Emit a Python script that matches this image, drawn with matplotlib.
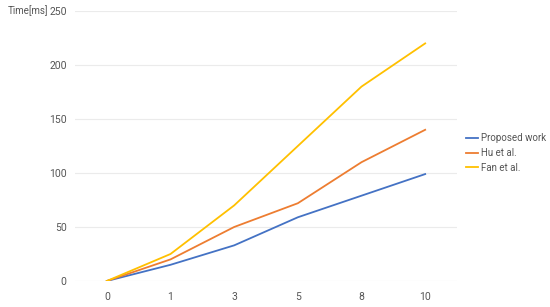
import matplotlib.pyplot as plt

# данные графика
categories = ['0', '1', '3', '5', '8', '10']
proposed = [0, 15, 33, 59, 79, 99]
hu = [0, 20, 50, 72, 110, 140]
fan = [0, 25, 70, 125, 180, 220]
y_ticks = [0, 50, 100, 150, 200, 250]

plt.rcParams['font.family'] = ['Roboto', 'DejaVu Sans']

fig = plt.figure(figsize=(5.5, 3.07), dpi=100)
ax = fig.add_axes([75 / 550, 26 / 307, 382 / 550, 270 / 307])

x = list(range(len(categories)))
ax.plot(x, proposed, color='#4472c4', linewidth=1.3, label='Proposed work')
ax.plot(x, hu, color='#ed7d31', linewidth=1.3, label='Hu et al.')
ax.plot(x, fan, color='#ffc000', linewidth=1.3, label='Fan et al.')

ax.set_xlim(-0.5, len(categories) - 0.5)
ax.set_ylim(0, 250)
ax.set_xticks(x)
ax.set_xticklabels(categories)
ax.set_yticks(y_ticks)
ax.grid(axis='y', color='#ebebeb', linewidth=0.8)
ax.set_axisbelow(True)
for s in ax.spines.values():
    s.set_visible(False)
ax.tick_params(length=0, labelsize=7.5, colors='#555555')
ax.tick_params(axis='x', pad=8)
ax.tick_params(axis='y', pad=6)

fig.text(8 / 550, 1 - 11 / 307, 'Time[ms]', fontsize=7, color='#555555', va='center')

ax.legend(loc='center left', bbox_to_anchor=(1.024, 0.474), frameon=False, fontsize=7,
          borderaxespad=0, borderpad=0,
          handlelength=1.25, handletextpad=0.25, labelspacing=0.5, labelcolor='#555555')

fig.savefig('out.png', dpi=100)
